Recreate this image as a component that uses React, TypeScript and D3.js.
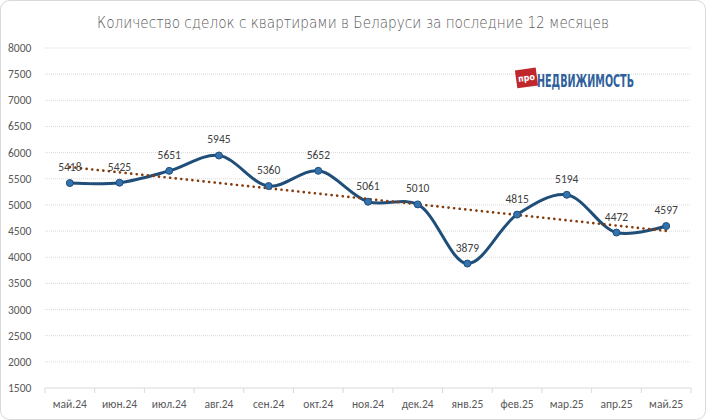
import React from 'react';
import * as d3 from 'd3';

const months = ['май.24', 'июн.24', 'июл.24', 'авг.24', 'сен.24', 'окт.24', 'ноя.24', 'дек.24', 'янв.25', 'фев.25', 'мар.25', 'апр.25', 'май.25'];
const deals = [5418, 5425, 5651, 5945, 5360, 5652, 5061, 5010, 3879, 4815, 5194, 4472, 4597];
const yTicks = [1500, 2000, 2500, 3000, 3500, 4000, 4500, 5000, 5500, 6000, 6500, 7000, 7500, 8000];

const W = 706;
const H = 420;
const margin = { top: 48, right: 15, bottom: 32, left: 45 };

const App: React.FC = () => {
    const x = d3.scaleBand().domain(months).range([margin.left, W - margin.right]);
    const y = d3.scaleLinear().domain([1500, 8000]).range([H - margin.bottom, margin.top]);
    const cx = (m: string) => x(m)! + x.bandwidth() / 2;

    const pts: [number, number][] = deals.map((d, i) => [cx(months[i]), y(d)]);
    const line = d3.line().curve(d3.curveCatmullRom.alpha(0.5))(pts) || '';

    // линейный тренд (МНК)
    const n = deals.length;
    const mx = (n - 1) / 2;
    const my = d3.mean(deals)!;
    const slope = d3.sum(deals, (d, i) => (i - mx) * (d - my)) / d3.sum(deals, (_, i) => (i - mx) ** 2);
    const trend = (i: number) => my + slope * (i - mx);
    const trendPath = d3.line()([[cx(months[0]), y(trend(0))], [cx(months[n - 1]), y(trend(n - 1))]]) || '';

    const font = 'Calibri, Carlito, "Liberation Sans", Arial, sans-serif';

    return (
        <div style={{ position: 'absolute', left: 0, top: 0 }}>
            <svg width={W} height={H} style={{ display: 'block' }}>
                <rect x={0.5} y={0.5} width={W - 1} height={H - 1} rx={9} fill="#fff" stroke="#d9d9d9" />
                <text x={W / 2} y={28} textAnchor="middle" textLength={512} lengthAdjust="spacingAndGlyphs" fontFamily='"DejaVu Sans", sans-serif' fontSize={15} fontWeight={200} fill="#595959">
                    Количество сделок с квартирами в Беларуси за последние 12 месяцев
                </text>

                {yTicks.map(t => (
                    <g key={t}>
                        {t > 1500 && (
                            <line x1={margin.left} x2={W - margin.right} y1={y(t)} y2={y(t)} stroke="#d9d9d9" strokeWidth={1} strokeDasharray="1 1" />
                        )}
                        <text x={8} y={y(t) + 4} fontFamily={font} fontSize={11.5} fill="#595959">{t}</text>
                    </g>
                ))}

                <line x1={margin.left} x2={W - margin.right} y1={y(1500)} y2={y(1500)} stroke="#d9d9d9" />
                {months.map(m => (
                    <line key={'t' + m} x1={x(m)!} x2={x(m)!} y1={y(1500)} y2={y(1500) + 5} stroke="#d9d9d9" />
                ))}
                <line x1={W - margin.right} x2={W - margin.right} y1={y(1500)} y2={y(1500) + 5} stroke="#d9d9d9" />
                {months.map(m => (
                    <text key={'l' + m} x={cx(m)} y={H - 12} textAnchor="middle" fontFamily={font} fontSize={11.5} fill="#595959">{m}</text>
                ))}

                {/* логотип */}
                <g transform="translate(526,78) rotate(-8)">
                    <rect x={-10} y={-9} width={21} height={18} fill="#c0272d" />
                    <text x={0.5} y={3} textAnchor="middle" fontFamily='"DejaVu Sans Condensed", "Liberation Sans Narrow", sans-serif' fontSize={9} fontWeight="bold" fill="#fff">про</text>
                </g>
                <text x={537} y={87} textLength={97} lengthAdjust="spacingAndGlyphs" fontFamily='"Liberation Sans Narrow", "DejaVu Sans Condensed", Arial, sans-serif' fontSize={18} fontWeight="bold" fill="#2f5f9c">НЕДВИЖИМОСТЬ</text>

                <path d={line} fill="none" stroke="#1f4e79" strokeWidth={3} strokeLinejoin="round" />
                <path d={trendPath} fill="none" stroke="#843c0c" strokeWidth={2.6} strokeLinecap="round" strokeDasharray="0.1 5.5" />

                {pts.map(([px, py], i) => (
                    <circle key={'c' + i} cx={px} cy={py} r={3.5} fill="#3572b0" stroke="#1f4e79" strokeWidth={1} />
                ))}
                {pts.map(([px, py], i) => (
                    <text key={'v' + i} x={px} y={py - 12} textAnchor="middle" fontFamily={font} fontSize={11.5} fill="#404040">{deals[i]}</text>
                ))}
            </svg>
        </div>
    );
};

export default App;
